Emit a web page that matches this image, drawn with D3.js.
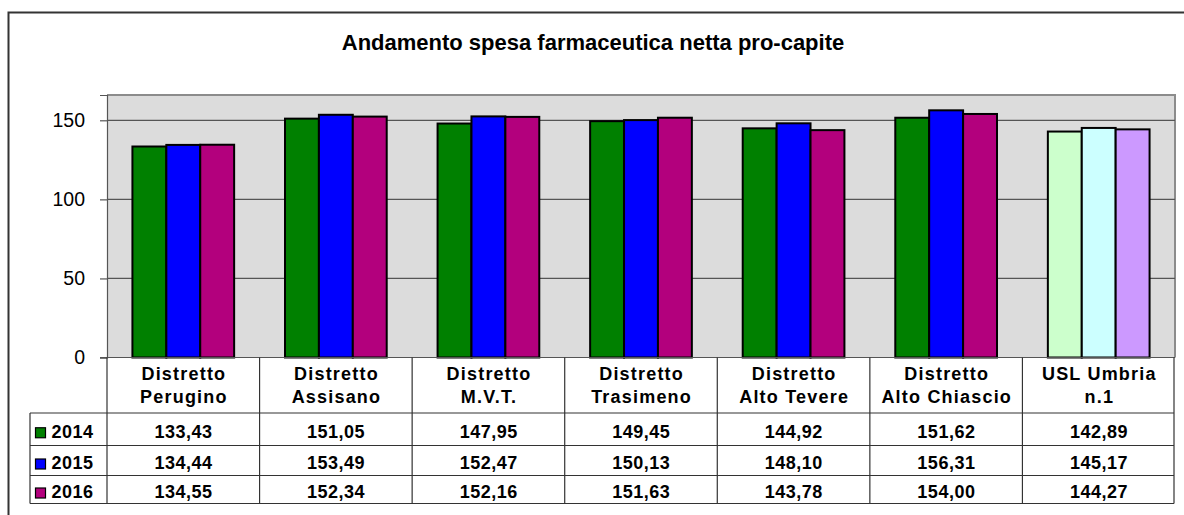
<!DOCTYPE html>
<html>
<head>
<meta charset="utf-8">
<script src="https://cdn.jsdelivr.net/npm/d3@7"></script>
<style>
  html, body { margin: 0; padding: 0; background: #fff; }
  svg { display: block; font-family: "Liberation Sans", Arial, sans-serif; }
</style>
</head>
<body>
<svg id="chart" width="1184" height="515"></svg>
<script>
const title = "Andamento spesa farmaceutica netta pro-capite";
const categories = [
  ["Distretto", "Perugino"],
  ["Distretto", "Assisano"],
  ["Distretto", "M.V.T."],
  ["Distretto", "Trasimeno"],
  ["Distretto", "Alto Tevere"],
  ["Distretto", "Alto Chiascio"],
  ["USL Umbria", "n.1"]
];
const seriesNames = ["2014", "2015", "2016"];
const v2014 = [133.43, 151.05, 147.95, 149.45, 144.92, 151.62, 142.89];
const v2015 = [134.44, 153.49, 152.47, 150.13, 148.10, 156.31, 145.17];
const v2016 = [134.55, 152.34, 152.16, 151.63, 143.78, 154.00, 144.27];
const yTicks = [0, 50, 100, 150];
const yMax = 166;

const series = [v2014, v2015, v2016];
const colors = ["#008000", "#0000FF", "#B3007D"];
const lastColors = ["#CCFFCC", "#CCFFFF", "#CC99FF"];

const svg = d3.select("#chart");
const L = 107, R = 1175, T = 95, B = 357.5;
const tableLeft = 30, headerBottom = 413, rowBottoms = [445.5, 475.5, 503.5];

// outer border
svg.append("path").attr("d", "M8.5,515 V12.5 H1184")
  .attr("fill", "none").attr("stroke", "#333").attr("stroke-width", 2);

// title
svg.append("text").attr("x", 593).attr("y", 50).attr("text-anchor", "middle")
  .attr("font-size", 22).attr("font-weight", "bold").text(title);

const x0 = d3.scaleBand().domain(d3.range(categories.length)).range([L, R]).paddingInner(0).paddingOuter(0);
const innerPad = (x0.bandwidth() - x0.bandwidth() * 3 / 4.5) / 2;
const x1 = d3.scaleBand().domain(d3.range(3)).range([innerPad, x0.bandwidth() - innerPad]);
const y = d3.scaleLinear().domain([0, yMax]).range([B, T]);

// plot area
svg.append("rect").attr("x", L).attr("y", T).attr("width", R - L).attr("height", B - T)
  .attr("fill", "#DCDCDC");
svg.append("path").attr("d", `M${L},${T} H${R} V${B}`).attr("fill", "none")
  .attr("stroke", "#8c8c8c").attr("stroke-width", 2);

// gridlines
svg.append("g").selectAll("line").data(yTicks.filter(d => d > 0)).join("line")
  .attr("x1", L).attr("x2", R).attr("y1", d => y(d)).attr("y2", d => y(d))
  .attr("stroke", "#555").attr("stroke-width", 1.2);

// y axis
const yAxis = d3.axisLeft(y).tickValues(yTicks).tickSize(7).tickPadding(15).tickFormat(d3.format("d"));
const gy = svg.append("g").attr("transform", `translate(${L},0)`).call(yAxis);
gy.select(".domain").attr("stroke", "#555").attr("stroke-width", 1.2);
gy.selectAll(".tick line").attr("stroke", "#555").attr("stroke-width", 1.2);
gy.selectAll(".tick text").attr("font-size", 19.5).attr("fill", "#000")
  .attr("font-family", "Liberation Sans, Arial, sans-serif");

// bars
const groups = svg.append("g").selectAll("g").data(categories).join("g")
  .attr("transform", (d, i) => `translate(${x0(i)},0)`);
groups.each(function(c, ci) {
  d3.select(this).selectAll("rect").data(series.map((s, si) => ({ si, v: s[ci] }))).join("rect")
    .attr("x", d => x1(d.si))
    .attr("width", x1.bandwidth())
    .attr("y", d => y(d.v))
    .attr("height", d => y(0) - y(d.v))
    .attr("fill", d => ci === categories.length - 1 ? lastColors[d.si] : colors[d.si])
    .attr("stroke", "#000").attr("stroke-width", 2);
});

// zero line
svg.append("line").attr("x1", L - 7).attr("x2", R).attr("y1", B).attr("y2", B)
  .attr("stroke", "#555").attr("stroke-width", 1.2);

// data table
const tg = svg.append("g");
const lineCol = "#333";
d3.range(categories.length + 1).forEach(i => {
  const xx = i < categories.length ? x0(i) : R - 1;
  tg.append("line").attr("x1", xx).attr("x2", xx).attr("y1", B).attr("y2", rowBottoms[2])
    .attr("stroke", lineCol).attr("stroke-width", 1.2);
});
tg.append("line").attr("x1", tableLeft).attr("x2", tableLeft).attr("y1", headerBottom).attr("y2", rowBottoms[2])
  .attr("stroke", lineCol).attr("stroke-width", 1.2);
[headerBottom, ...rowBottoms].forEach(yy => {
  tg.append("line").attr("x1", tableLeft).attr("x2", R - 1).attr("y1", yy).attr("y2", yy)
    .attr("stroke", lineCol).attr("stroke-width", 1.2);
});

// header labels
categories.forEach((c, i) => {
  const cx = x0(i) + x0.bandwidth() / 2;
  c.forEach((line, li) => {
    tg.append("text").attr("x", cx + 0.6).attr("y", 380 + li * 23).attr("text-anchor", "middle")
      .attr("font-size", 18).attr("font-weight", "bold").attr("letter-spacing", 1.2).text(line);
  });
});

const fmt = v => v.toFixed(2).replace(".", ",");
const rowTops = [headerBottom, rowBottoms[0], rowBottoms[1]];
series.forEach((s, si) => {
  const base = (rowTops[si] + rowBottoms[si]) / 2 + 8.5;
  tg.append("rect").attr("x", 35.5).attr("y", base - 10).attr("width", 10).attr("height", 10)
    .attr("fill", colors[si]).attr("stroke", "#000").attr("stroke-width", 1.2);
  tg.append("text").attr("x", 51.5).attr("y", base).attr("font-size", 18).attr("font-weight", "bold")
    .attr("letter-spacing", 0.5).text(seriesNames[si]);
  s.forEach((v, ci) => {
    tg.append("text").attr("x", x0(ci) + x0.bandwidth() / 2 + 0.25).attr("y", base)
      .attr("text-anchor", "middle").attr("font-size", 18).attr("font-weight", "bold")
      .attr("letter-spacing", 0.5).text(fmt(v));
  });
});
</script>
</body>
</html>
